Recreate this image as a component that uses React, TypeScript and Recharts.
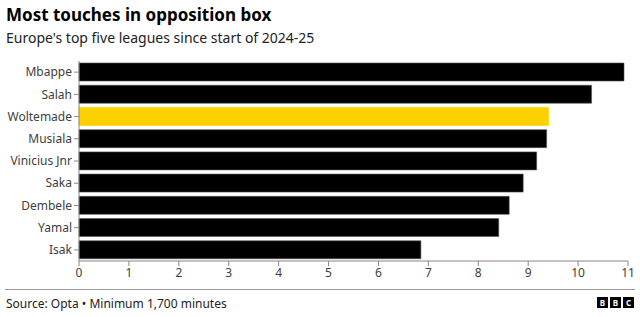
import { Bar, BarChart, Cell, XAxis, YAxis } from "recharts";

const PLAYERS = ["Mbappe", "Salah", "Woltemade", "Musiala", "Vinicius Jnr", "Saka", "Dembele", "Yamal", "Isak"];
const TOUCHES = [10.92, 10.27, 9.41, 9.37, 9.17, 8.9, 8.62, 8.41, 6.85];
const HIGHLIGHT = "Woltemade";
const X_TICKS = [0, 1, 2, 3, 4, 5, 6, 7, 8, 9, 10, 11];

const FONT = "'Noto Sans', sans-serif";

const rows = PLAYERS.map((name, i) => ({ name, value: TOUCHES[i] }));

function BbcLogo() {
  return (
    <div style={{ position: "absolute", right: 6, top: 297, display: "flex", gap: 2 }}>
      {["B", "B", "C"].map((l, i) => (
        <div
          key={i}
          style={{
            width: 11,
            height: 11,
            background: "#000",
            color: "#fff",
            fontSize: 8,
            fontWeight: 700,
            lineHeight: "11px",
            textAlign: "center",
            fontFamily: FONT,
          }}
        >
          {l}
        </div>
      ))}
    </div>
  );
}

export default function App() {
  return (
    <div
      style={{
        position: "fixed",
        left: 0,
        top: 0,
        width: 640,
        height: 317,
        background: "#fff",
        fontFamily: FONT,
        overflow: "hidden",
      }}
    >
      <div style={{ position: "absolute", left: 6, top: 3, fontSize: 17, fontWeight: 700, color: "#000" }}>
        Most touches in opposition box
      </div>
      <div style={{ position: "absolute", left: 6, top: 28, fontSize: 14, color: "#222" }}>
        Europe's top five leagues since start of 2024-25
      </div>
      <div style={{ position: "absolute", left: 0, top: 0 }}>
        <BarChart
          width={640}
          height={317}
          data={rows}
          layout="vertical"
          margin={{ top: 61, right: 12, bottom: 26, left: 0 }}
          barSize={18}
        >
          <XAxis
            type="number"
            domain={[0, 11]}
            ticks={X_TICKS}
            interval={0}
            stroke="#888"
            tickSize={5}
            height={30}
            tick={{ fill: "#404040", fontSize: 12, fontFamily: FONT }}
          />
          <YAxis
            type="category"
            dataKey="name"
            width={79}
            interval={0}
            stroke="#888"
            tickSize={5}
            tick={{ fill: "#404040", fontSize: 12, fontFamily: FONT }}
          />
          <Bar dataKey="value" isAnimationActive={false} stroke="#555" strokeWidth={0.6}>
            {rows.map((r) => (
              <Cell
                key={r.name}
                fill={r.name === HIGHLIGHT ? "#fdd000" : "#000"}
                stroke={r.name === HIGHLIGHT ? "#fdd000" : "#555"}
              />
            ))}
          </Bar>
        </BarChart>
      </div>
      <div style={{ position: "absolute", left: 5, right: 5, top: 289, height: 1, background: "#999" }} />
      <div style={{ position: "absolute", left: 6, top: 295, fontSize: 12, color: "#222" }}>
        Source: Opta • Minimum 1,700 minutes
      </div>
      <BbcLogo />
    </div>
  );
}
